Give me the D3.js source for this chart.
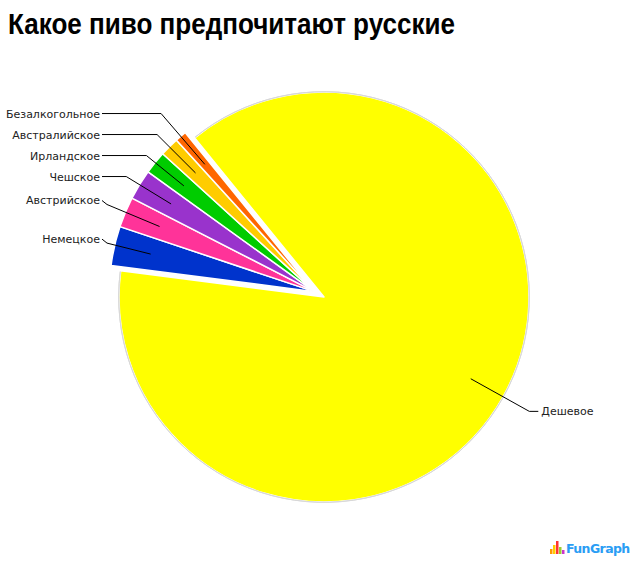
<!DOCTYPE html>
<html>
<head>
<meta charset="utf-8">
<script src="https://cdn.jsdelivr.net/npm/d3@7"></script>
<style>
  html, body { margin: 0; padding: 0; background: #fff; }
  svg { display: block; }
</style>
</head>
<body>
<svg id="chart" width="640" height="565"></svg>
<script>
// ---- data ----
const title = "Какое пиво предпочитают русские";
const categories = ["Дешевое", "Немецкое", "Австрийское", "Чешское", "Ирландское", "Австралийское", "Безалкогольное"];
const values = [87.9, 3.1, 2.4, 2.4, 1.8, 1.5, 0.9];
const colors = ["#FFFF00", "#0033CC", "#FF3399", "#9933CC", "#00CC00", "#FFCC00", "#FF6600"];
const explodedFlags = [false, true, true, true, true, true, true];

// ---- layout ----
const W = 640, H = 565;
const cx = 324, cy = 297, R = 205;
const explodeDist = 11;
const startDeg = -39.1;
const anchorR = 168, elbowR = 235;
const leftTextX = 100, labelGap = 21;

const svg = d3.select("#chart");

svg.append("text")
  .attr("x", 8).attr("y", 34)
  .attr("font-family", "Liberation Sans, Arial, sans-serif")
  .attr("font-weight", "bold")
  .attr("font-size", 30)
  .attr("textLength", 447)
  .attr("lengthAdjust", "spacingAndGlyphs")
  .attr("fill", "#000")
  .text(title);

const data = categories.map((c, i) => ({ name: c, value: values[i], color: colors[i], exploded: explodedFlags[i] }));

const startA = startDeg * Math.PI / 180;
const pie = d3.pie().sort(null).value(d => d.value).startAngle(startA).endAngle(startA + 2 * Math.PI);
const arcs = pie(data);

// group explode direction: mid angle of exploded slices
const exArcs = arcs.filter(a => a.data.exploded);
const gStart = d3.min(exArcs, a => a.startAngle), gEnd = d3.max(exArcs, a => a.endAngle);
const gMid = (gStart + gEnd) / 2;
const ox = explodeDist * Math.sin(gMid), oy = -explodeDist * Math.cos(gMid);

const arcGen = d3.arc().innerRadius(0).outerRadius(R);

const g = svg.append("g").attr("transform", `translate(${cx},${cy})`);

// yellow rim
const rim = d3.arc().innerRadius(R + 0.3).outerRadius(R + 0.3);

arcs.forEach(a => {
  const dx = a.data.exploded ? ox : 0, dy = a.data.exploded ? oy : 0;
  g.append("path")
    .attr("transform", `translate(${dx},${dy})`)
    .attr("d", arcGen(a))
    .attr("fill", a.data.color)
    .attr("stroke", "#fff")
    .attr("stroke-width", 1.5)
    .attr("stroke-linejoin", "round");
  if (!a.data.exploded) {
    g.append("path")
      .attr("d", rim({ startAngle: a.startAngle + 0.004, endAngle: a.endAngle - 0.004 }))
      .attr("fill", "none")
      .attr("stroke", "#d8d8d8")
      .attr("stroke-width", 1);
  }
});

// ---- labels ----
const labels = arcs.map(a => {
  const mid = (a.startAngle + a.endAngle) / 2;
  const dx = a.data.exploded ? ox : 0, dy = a.data.exploded ? oy : 0;
  const s = Math.sin(mid), c = -Math.cos(mid);
  return {
    name: a.data.name, mid, s, c, dx, dy,
    ax: dx + anchorR * s, ay: dy + anchorR * c,
    y: dy + elbowR * c,
    side: s < 0 ? "left" : "right"
  };
});

// push down overlapping labels per side
["left", "right"].forEach(side => {
  const L = labels.filter(l => l.side === side).sort((a, b) => a.y - b.y);
  for (let i = 1; i < L.length; i++) {
    if (L[i].y - L[i - 1].y < labelGap) L[i].y = L[i - 1].y + labelGap;
  }
});

labels.forEach(l => {
  // elbow on bisector ray at label y
  const Re = (l.y - l.dy) / l.c;
  let ex = l.dx + Re * l.s;
  let pts, tx, anchor;
  if (l.side === "left") {
    const hx = leftTextX + 2 - cx;
    ex = Math.max(ex, hx + 5);
    pts = [[l.ax, l.ay], [ex, l.y + (ex > hx + 6 ? 0 : 4)], [hx, l.y]];
    tx = leftTextX - cx; anchor = "end";
  } else {
    pts = [[l.ax, l.ay], [ex, l.y], [ex + 9, l.y]];
    tx = ex + 12; anchor = "start";
  }
  g.append("path")
    .attr("d", d3.line()(pts))
    .attr("fill", "none")
    .attr("stroke", "#000")
    .attr("stroke-width", 1);
  g.append("text")
    .attr("x", tx).attr("y", l.y)
    .attr("dy", "0.36em")
    .attr("text-anchor", anchor)
    .attr("font-family", "DejaVu Sans, Verdana, sans-serif")
    .attr("font-size", 11)
    .attr("fill", "#222")
    .text(l.name);
});

// ---- logo ----
const logo = svg.append("g").attr("transform", "translate(550,541)");
const logoBars = [[0, 8, "#ff9900"], [3, 4, "#ffcc00"], [6, 0, "#ff3333"], [9, 6, "#99cc33"], [12, 9, "#cc33cc"]];
logoBars.forEach(b => logo.append("rect").attr("x", b[0]).attr("y", b[1]).attr("width", 2.5).attr("height", 13 - b[1]).attr("fill", b[2]));
logo.append("text")
  .attr("x", 16).attr("y", 12)
  .attr("font-family", "Verdana, DejaVu Sans, sans-serif")
  .attr("font-weight", "bold")
  .attr("font-size", 12.5)
  .attr("fill", "#2a9df4")
  .attr("letter-spacing", -0.6)
  .text("FunGraph");
</script>
</body>
</html>
